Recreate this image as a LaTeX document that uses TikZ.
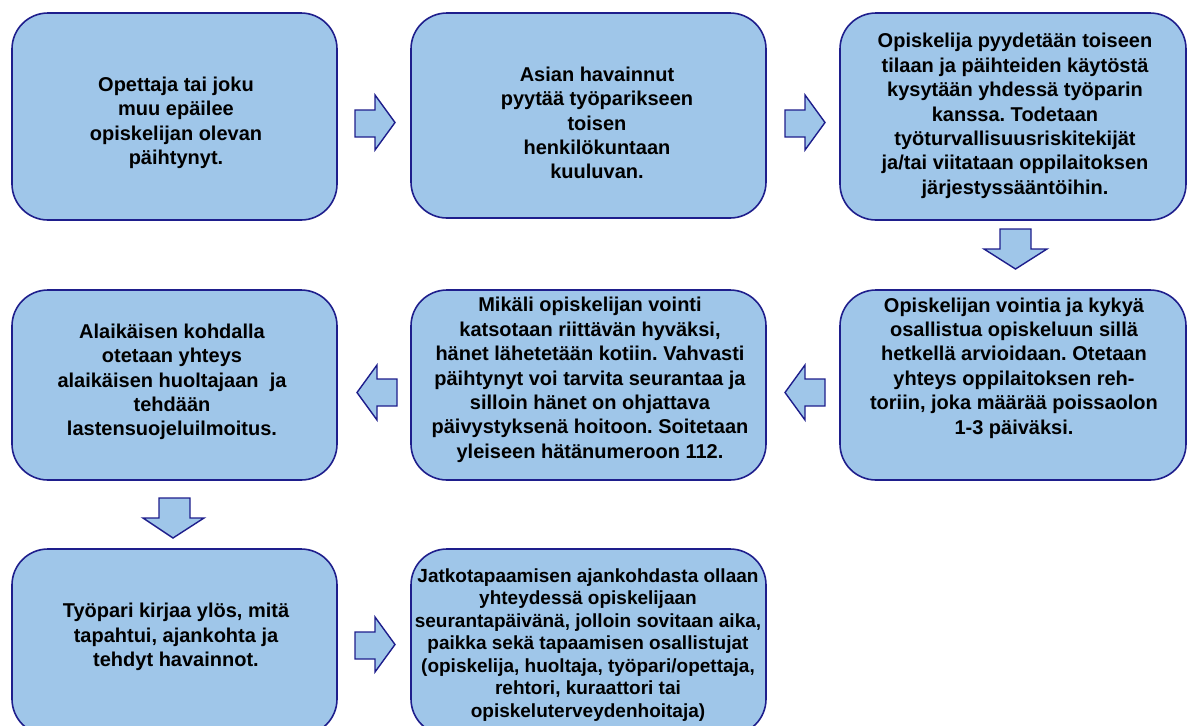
\documentclass[tikz,border=0pt]{standalone}
\usepackage{fontspec}
\setmainfont{Liberation Sans}
\definecolor{boxfill}{RGB}{159,198,233}
\definecolor{boxline}{RGB}{30,30,140}
\begin{document}
\frenchspacing
\begin{tikzpicture}[x=1pt,y=-1pt,
  box/.style={draw=boxline,fill=boxfill,line width=1.6pt,rounded corners=36pt},
  txt/.style={align=center,font=\bfseries\fontsize{20}{24.4}\selectfont,text=black,inner sep=0pt},
  blockarrow/.style={draw=boxline,fill=boxfill,line width=1.4pt,line join=miter}]
\useasboundingbox (0,0) rectangle (1187,726);
\clip (0,0) rectangle (1187,726);
% boxes
\draw[box] (12,13) rectangle (337,220);
\draw[box] (411,13) rectangle (766,218);
\draw[box] (840,13) rectangle (1186,220);
\draw[box] (12,290) rectangle (337,480);
\draw[box] (411,290) rectangle (766,480);
\draw[box] (840,290) rectangle (1186,480);
\draw[box] (12,549) rectangle (337,735);
\draw[box] (411,549) rectangle (766,735);
% texts
\node[txt] (t1) at (176,123) {Opettaja tai joku\\muu epäilee\\opiskelijan olevan\\päihtynyt.};
\node[txt] (t2) at (597,123) {Asian havainnut\\pyytää työparikseen\\toisen\\henkilökuntaan\\kuuluvan.};
\node[txt] (t3) at (1015,116) {Opiskelija pyydetään toiseen\\tilaan ja päihteiden käytöstä\\kysytään yhdessä työparin\\kanssa. Todetaan\\työturvallisuusriskitekijät\\ja/tai viitataan oppilaitoksen\\järjestyssääntöihin.};
\node[txt] (t6) at (1014,368) {Opiskelijan vointia ja kykyä\\osallistua opiskeluun sillä\\hetkellä arvioidaan. Otetaan\\yhteys oppilaitoksen reh-\\toriin, joka määrää poissaolon\\1-3 päiväksi.};
\node[txt] (t5) at (590,380) {Mikäli opiskelijan vointi\\katsotaan riittävän hyväksi,\\hänet lähetetään kotiin. Vahvasti\\päihtynyt voi tarvita seurantaa ja\\silloin hänet on ohjattava\\päivystyksenä hoitoon. Soitetaan\\yleiseen hätänumeroon 112.};
\node[txt] (t4) at (172,382) {Alaikäisen kohdalla\\otetaan yhteys\\alaikäisen huoltajaan\ \ ja\\tehdään\\lastensuojeluilmoitus.};
\node[txt] (t7) at (176,637) {Työpari kirjaa ylös, mitä\\tapahtui, ajankohta ja\\tehdyt havainnot.};
\node[txt,font=\bfseries\fontsize{19}{22.5}\selectfont] (t8) at (588,645) {Jatkotapaamisen ajankohdasta ollaan\\yhteydessä opiskelijaan\\seurantapäivänä, jolloin sovitaan aika,\\paikka sekä tapaamisen osallistujat\\(opiskelija, huoltaja, työpari/opettaja,\\rehtori, kuraattori tai\\opiskeluterveydenhoitaja)};
% block arrows
\draw[blockarrow] (355,110) -- (375,110) -- (375,95) -- (395,122.5) -- (375,150) -- (375,137) -- (355,137) -- cycle;
\draw[blockarrow] (785,110) -- (805,110) -- (805,95) -- (825,122.5) -- (805,150) -- (805,137) -- (785,137) -- cycle;
\draw[blockarrow] (1000,229) -- (1031,229) -- (1031,249) -- (1047,249) -- (1015.5,269) -- (984,249) -- (1000,249) -- cycle;
\draw[blockarrow] (825,379) -- (805,379) -- (805,365) -- (785,392.5) -- (805,420) -- (805,406) -- (825,406) -- cycle;
\draw[blockarrow] (397,379) -- (377,379) -- (377,365) -- (357,392.5) -- (377,420) -- (377,406) -- (397,406) -- cycle;
\draw[blockarrow] (159,498) -- (190,498) -- (190,518) -- (204,518) -- (173,538) -- (143,518) -- (159,518) -- cycle;
\draw[blockarrow] (355,632) -- (375,632) -- (375,617) -- (395,644.5) -- (375,672) -- (375,659) -- (355,659) -- cycle;
\end{tikzpicture}
\end{document}
